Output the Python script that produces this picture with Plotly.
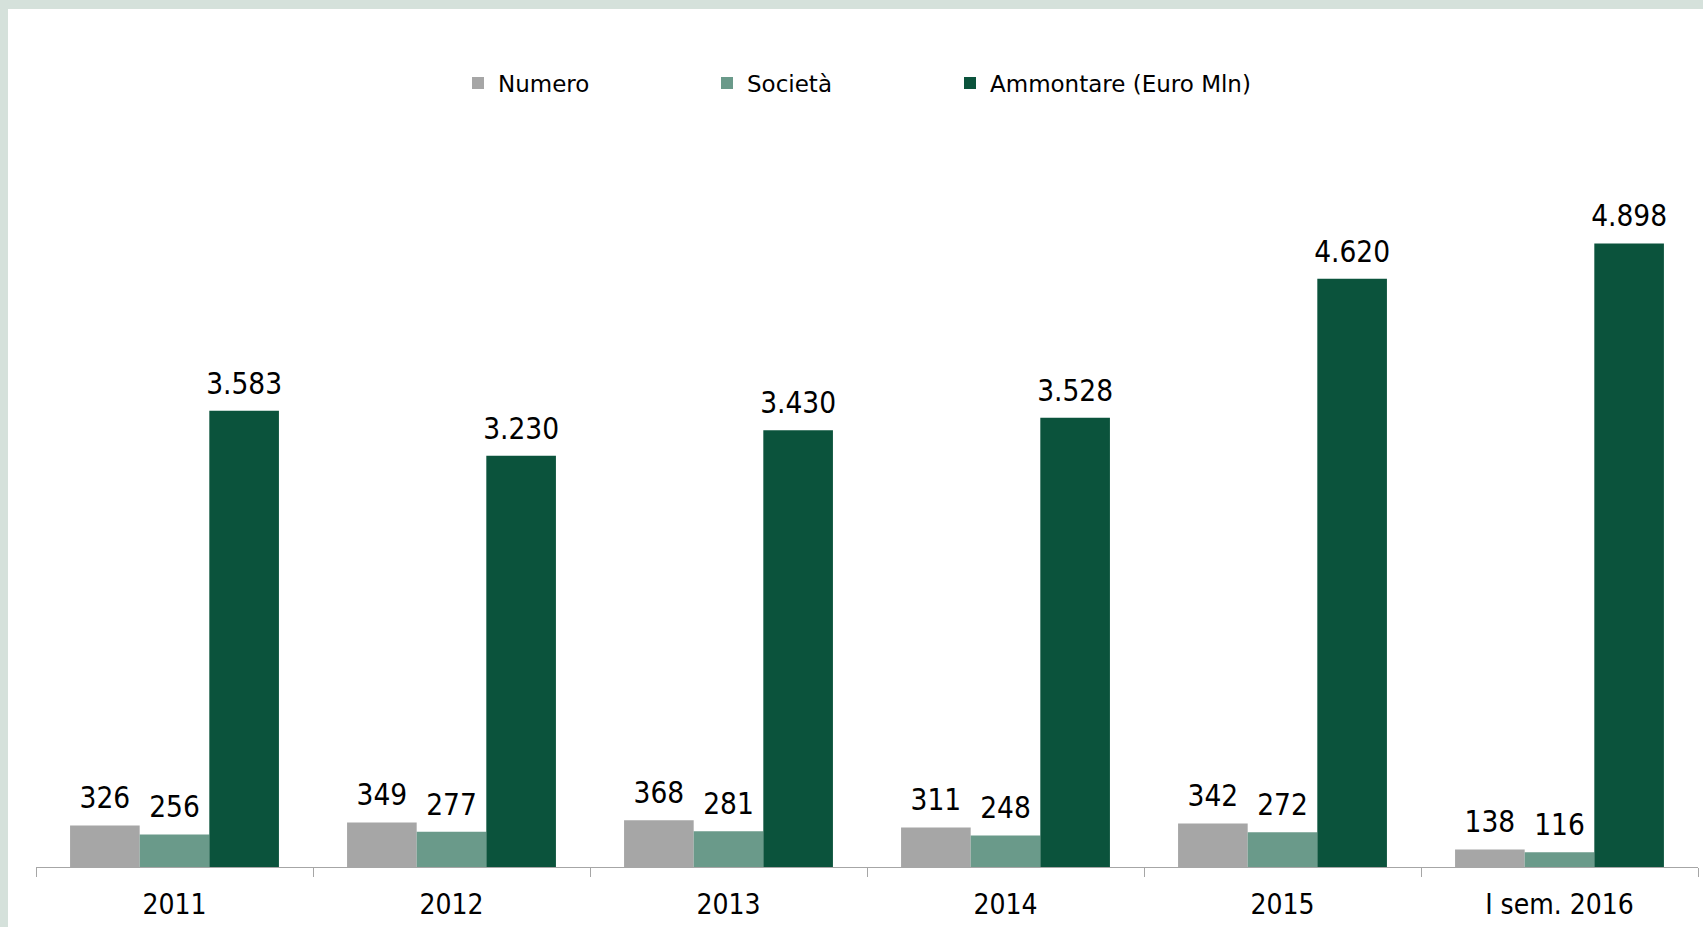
import plotly.graph_objects as go

categories = ["2011", "2012", "2013", "2014", "2015", "I sem. 2016"]
numero = [326, 349, 368, 311, 342, 138]
societa = [256, 277, 281, 248, 272, 116]
ammontare = [3583, 3230, 3430, 3528, 4620, 4898]

series_names = ["Numero", "Società", "Ammontare (Euro Mln)"]
series_colors = ["#a6a6a6", "#6a9a8a", "#0b533c"]
legend_ids = ["legend", "legend2", "legend3"]
legend_px = [458, 707, 950]

W, H = 1703, 927
ML, MR, MT, MB = 36, 5, 154, 60
COND = "DejaVu Sans Condensed, DejaVu Sans, sans-serif"
REG = "DejaVu Sans, Verdana, sans-serif"
GAP = 0.246

pw = W - ML - MR
ph = H - MT - MB

fig = go.Figure()
all_vals = [numero, societa, ammontare]
for name, vals, col, lid in zip(series_names, all_vals, series_colors, legend_ids):
    fig.add_trace(go.Bar(
        x=categories, y=vals, name=name, legend=lid,
        marker=dict(color=col, line=dict(width=0)),
        hoverinfo="x+y",
    ))
# value labels, grouped like the bars
for name, vals in zip(series_names, all_vals):
    fig.add_trace(go.Scatter(
        x=categories, y=vals, mode="markers+text", showlegend=False,
        text=[f"{v:,}".replace(",", ".") for v in vals],
        textposition="top center", cliponaxis=False, hoverinfo="skip",
        marker=dict(size=14, opacity=0, color="#ffffff"),
        textfont=dict(family=COND, size=29.5, color="#000000"),
    ))

legend_common = dict(
    orientation="h", xanchor="left",
    y=(H - MB - 83) / ph, yanchor="middle",
    font=dict(family=REG, size=23, color="#000000"),
    bgcolor="rgba(0,0,0,0)", borderwidth=0,
)
legends = {}
for lid, px in zip(legend_ids, legend_px):
    legends[lid] = dict(legend_common, x=(px - ML) / pw)

fig.update_layout(
    width=W, height=H,
    margin=dict(l=ML, r=MR, t=MT, b=MB),
    paper_bgcolor="#ffffff", plot_bgcolor="#ffffff",
    separators=",.",
    barmode="group", bargap=GAP, bargroupgap=0,
    scattermode="group", scattergap=GAP,
    font=dict(family=COND, size=28, color="#000000"),
    xaxis=dict(
        type="category", showline=True, linecolor="#a6a6a6", linewidth=1,
        ticks="outside", tickson="boundaries", ticklen=9, tickcolor="#a6a6a6",
        tickfont=dict(family=COND, size=28, color="#000000"),
        ticklabelstandoff=12,
        showgrid=False, zeroline=False,
    ),
    yaxis=dict(range=[0, 5600], visible=False, showgrid=False, zeroline=False),
    showlegend=True,
    shapes=[
        dict(type="rect", xref="paper", yref="paper",
             x0=-ML / pw, x1=(W - ML) / pw,
             y0=(H - MB - 9) / ph, y1=(H - MB) / ph,
             fillcolor="#d5e1db", line=dict(width=0), layer="below"),
        dict(type="rect", xref="paper", yref="paper",
             x0=-ML / pw, x1=(8 - ML) / pw,
             y0=-MB / ph, y1=(H - MB) / ph,
             fillcolor="#d5e1db", line=dict(width=0), layer="below"),
    ],
    **legends,
)

fig.write_html(
    "out.html",
    config={"displayModeBar": False},
    post_script="document.body.style.margin='0px';document.body.style.overflow='hidden';",
)
